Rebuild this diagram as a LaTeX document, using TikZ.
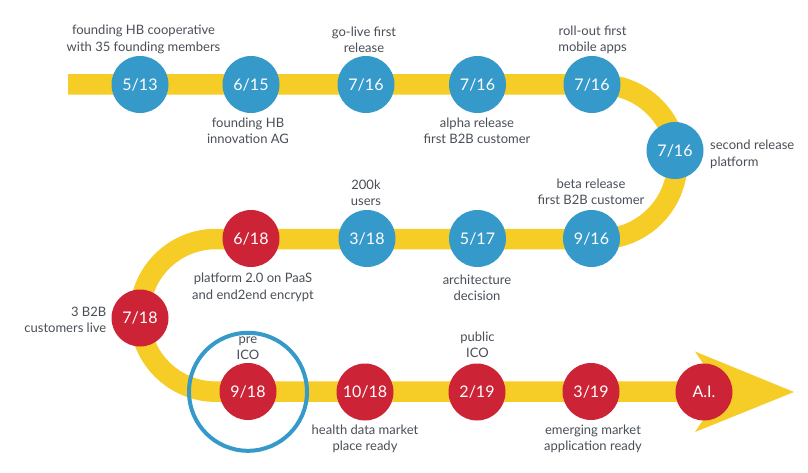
\documentclass[tikz,border=0pt]{standalone}
\usepackage{fontspec}
\setmainfont{Lato}
\definecolor{band}{HTML}{F6CD26}
\definecolor{bluec}{HTML}{3599C9}
\definecolor{redc}{HTML}{CC2436}
\definecolor{txt}{HTML}{4A4F57}
\tikzset{
  x=1pt,y=-1pt,
  bandline/.style={draw=band,line width=20.5pt},
  dot/.style={circle,minimum size=57pt,inner sep=0pt,text=white,font=\fontsize{16}{20}\selectfont},
  bluedot/.style={dot,fill=bluec},
  reddot/.style={dot,fill=redc},
  lbl/.style={text=txt,font=\fontsize{13}{16.4}\selectfont,align=center,inner sep=0pt},
  lblL/.style={lbl,align=left},
  lblR/.style={lbl,align=right},
  ring/.style={circle,draw=bluec,line width=4pt,minimum size=118pt,inner sep=0pt}
}
\begin{document}
\begin{tikzpicture}
\useasboundingbox (0,0) rectangle (808,473);
\fill[white] (0,0) rectangle (808,473);
% band
\coordinate (start) at (68,84.5);
\coordinate (t1) at (600,84.5);
\coordinate (t2) at (600,239);
\coordinate (m1) at (216,239);
\coordinate (m2) at (216,391.7);
\coordinate (e) at (725,391.7);
\draw[bandline] (start) -- (t1) arc[start angle=90,end angle=-90,x radius=77.25,y radius=-77.25]
  -- (m1) arc[start angle=90,end angle=270,x radius=76.35,y radius=-76.35] -- (e);
% arrow head
\coordinate (hA) at (695,351.5);
\coordinate (hB) at (794,392);
\coordinate (hC) at (695,432);
\coordinate (hN) at (722,392);
\fill[band] (hA) -- (hB) -- (hC) -- (hN) -- cycle;
% ring
\node[ring] (r) at (248,391.8) {};
% milestones
\node[bluedot] (a) at (140,84.5) {5/13};
\node[bluedot] (b) at (251,84.5) {6/15};
\node[bluedot] (c) at (366,84.5) {7/16};
\node[bluedot] (d) at (477.5,84.5) {7/16};
\node[bluedot] (f) at (592,84.5) {7/16};
\node[bluedot] (g) at (675,150.5) {7/16};
\node[bluedot] (h) at (591.5,238.5) {9/16};
\node[bluedot] (i) at (477.5,238.5) {5/17};
\node[bluedot] (j) at (367,238.5) {3/18};
\node[reddot] (k) at (251,238.5) {6/18};
\node[reddot] (l) at (140,318) {7/18};
\node[reddot] (m) at (248,391.5) {9/18};
\node[reddot] (n) at (365,392) {10/18};
\node[reddot] (o) at (477,392) {2/19};
\node[reddot] (p) at (591,391.5) {3/19};
\node[reddot] (q) at (704,392) {A.I.};
% labels
\node[lbl] (la) at (143.5,39.5) {founding HB cooperative\\with 35 founding members};
\node[lbl] (lb) at (248,130.5) {founding HB\\innovation AG};
\node[lbl] (lc) at (364,39.5) {go-live first\\release};
\node[lbl] (ld) at (477,130.5) {alpha release\\first B2B customer};
\node[lbl] (lf) at (592.5,40) {roll-out first\\mobile apps};
\node[lblL,anchor=west] (lg) at (710,154.5) {second release\\platform};
\node[lbl] (lh) at (591,192) {beta release\\first B2B customer};
\node[lbl] (li) at (477,287.5) {architecture\\decision};
\node[lbl] (lj) at (366,192.5) {200k\\users};
\node[lbl] (lk) at (253,287.5) {platform 2.0 on PaaS\\and end2end encrypt};
\node[lblR,anchor=east] (ll) at (106.5,320) {3 B2B\\customers live};
\node[lbl] (lm) at (248,348) {pre\\ICO};
\node[lbl] (ln) at (365,439) {health data market\\place ready};
\node[lbl] (lo) at (477.5,344.5) {public\\ICO};
\node[lbl] (lp) at (593,439) {emerging market\\application ready};
\end{tikzpicture}
\end{document}
